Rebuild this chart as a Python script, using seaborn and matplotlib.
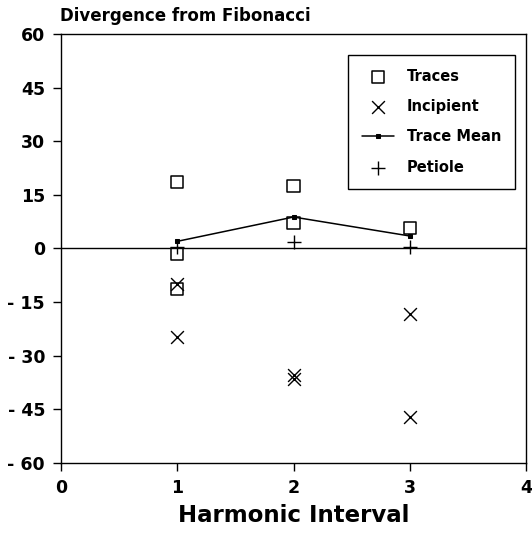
import matplotlib
matplotlib.use("Agg")
import matplotlib.pyplot as plt
import seaborn as sns

sns.set_theme(style="ticks")
plt.rcParams['font.family'] = ['DejaVu Sans']
plt.rcParams['text.color'] = 'black'
plt.rcParams['axes.labelcolor'] = 'black'
plt.rcParams['xtick.color'] = 'black'
plt.rcParams['ytick.color'] = 'black'

# Data
traces_x = [1, 1, 1, 2, 2, 3]
traces_y = [18.5, -1.5, -11.2, 17.5, 7.0, 5.8]
incip_x = [1, 1, 2, 2, 3, 3]
incip_y = [-10.0, -24.8, -35.5, -36.5, -18.2, -47.0]
mean_x = [1, 2, 3]
mean_y = [2.0, 8.8, 3.5]
pet_x = [1, 2, 3]
pet_y = [0.3, 1.8, 0.5]
x_ticks = [0, 1, 2, 3, 4]
y_ticks = [60, 45, 30, 15, 0, -15, -30, -45, -60]

fig = plt.figure(figsize=(5.32, 5.36), dpi=100)
ax = fig.add_axes([0.1147, 0.1362, 0.874, 0.8004])

ax.axhline(0, color='black', lw=1.0, zorder=1)

sns.lineplot(x=mean_x, y=mean_y, ax=ax, color='black', lw=1.1, marker='s',
             markersize=3.5, markeredgecolor='black', label='Trace Mean', zorder=3)
sns.scatterplot(x=traces_x, y=traces_y, ax=ax, marker='s', s=75, fc='none',
                ec='black', linewidth=1.1, label='Traces', zorder=4)
sns.scatterplot(x=incip_x, y=incip_y, ax=ax, marker='x', s=85, color='black',
                linewidth=1.0, label='Incipient', zorder=4)
sns.scatterplot(x=pet_x, y=pet_y, ax=ax, marker='+', s=110, color='black',
                linewidth=1.0, label='Petiole', zorder=4)

ax.set_xlim(0, 4)
ax.set_ylim(-60, 60)
ax.set_xticks(x_ticks)
ax.set_yticks(y_ticks)
ax.set_yticklabels([f"- {abs(v)}" if v < 0 else f"{v}" for v in y_ticks])
for lab in ax.get_xticklabels() + ax.get_yticklabels():
    lab.set_fontweight('bold')
    lab.set_fontsize(12.5)
    lab.set_color('black')
ax.tick_params(direction='out', length=5.5, width=1, color='black', pad=6)
for sp in ax.spines.values():
    sp.set_color('black')
    sp.set_linewidth(1.0)

ax.set_xlabel('Harmonic Interval', fontsize=16.5, fontweight='bold', labelpad=5,
              color='black')
ax.set_ylabel('')
fig.text(0.113, 0.971, 'Divergence from Fibonacci', fontsize=12, fontweight='bold',
         ha='left', va='center', color='black')

handles, labels = ax.get_legend_handles_labels()
order = ['Traces', 'Incipient', 'Trace Mean', 'Petiole']
hmap = dict(zip(labels, handles))
leg = ax.legend([hmap[k] for k in order], order, loc='upper left',
                bbox_to_anchor=(0.617, 0.951), frameon=True, fancybox=False,
                edgecolor='black', framealpha=1, borderpad=0.95, labelspacing=1.05,
                handlelength=2.2, handletextpad=0.9, borderaxespad=0,
                prop={'weight': 'bold', 'size': 10.5})
leg.get_frame().set_linewidth(1.0)
for t in leg.get_texts():
    t.set_color('black')

fig.savefig('out.png', dpi=100)
